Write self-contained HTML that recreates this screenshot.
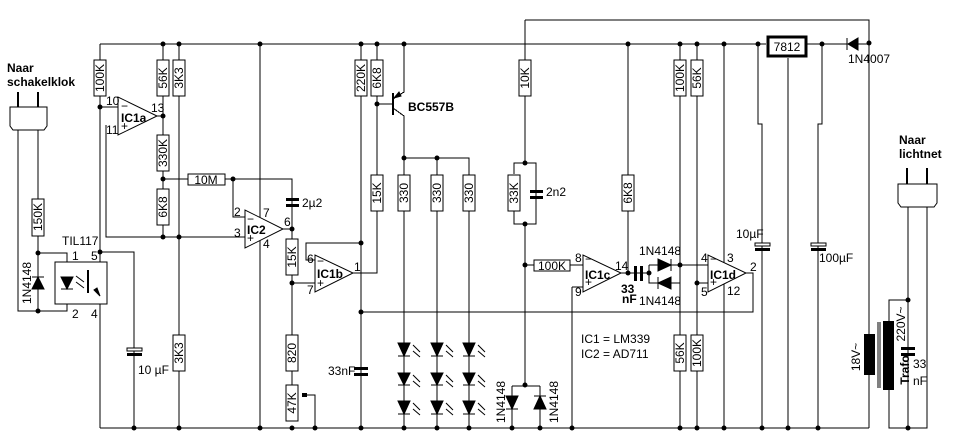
<!DOCTYPE html>
<html><head><meta charset="utf-8"><style>
html,body{margin:0;padding:0;background:#fff}
svg{display:block}
text{font-family:"Liberation Sans",sans-serif;font-size:12px;fill:#000}
.b{font-weight:bold}
.r{fill:#fff;stroke:#000;stroke-width:1}
.t{font-size:11px}
</style></head><body>
<svg width="956" height="448" viewBox="0 0 956 448" xmlns="http://www.w3.org/2000/svg">
<g stroke="#000" stroke-width="1" fill="none" shape-rendering="crispEdges">
<path d="M100 44H766M807 44H869M525 20H869V428"/>
<path d="M100 428H869"/>
<path d="M18 130V311H67V304M38 130V311M38 253H67V262"/>
<path d="M100 44V268L88 276M88 287L100 295V428M100 252H134V428"/>
<path d="M100 107H118M106 125V237H245M157 116H163M163 44V237M179 44V428"/>
<path d="M163 179H292V229M233 179V217H245M260 44V428M283 229H292V335M292 283H315M292 335V421M306 395H315V428"/>
<path d="M315 260H306V243H361M361 44V428M353 273H377V104M377 44V104H393M404 44V92L393 99M393 108L404 116V158H469V428M437 158V428M404 158V428"/>
<path d="M361 312H753V273H746"/>
<path d="M525 20V163M514 174V163H536V224H514V211M525 224V385M525 265H583M512 386H540M512 386V428M540 386V428M572 287H583M572 287V428"/>
<path d="M628 44V273H621M621 273H649M649 265V283H680M649 265H680M680 44V428M697 44V428M680 265H708M697 283H708M724 44V428"/>
<path d="M758 44V124H762V428M788 58V428M822 44V124H818V428"/>
<path d="M908 207V428M927 207V428H889V300H908"/>
<path d="M878 322V388M880 322V388"/>
</g>
<g class="r" shape-rendering="crispEdges">
<rect x="94" y="60" width="12" height="36"/>
<rect x="157" y="60" width="12" height="36"/>
<rect x="173" y="60" width="12" height="36"/>
<rect x="157" y="135" width="12" height="36"/>
<rect x="157" y="189" width="12" height="36"/>
<rect x="188" y="174" width="37" height="11"/>
<rect x="32" y="199" width="12" height="37"/>
<rect x="173" y="335" width="12" height="36"/>
<rect x="286" y="239" width="12" height="36"/>
<rect x="286" y="335" width="12" height="36"/>
<rect x="286" y="385" width="12" height="36"/>
<rect x="355" y="60" width="12" height="36"/>
<rect x="371" y="60" width="12" height="36"/>
<rect x="371" y="175" width="12" height="36"/>
<rect x="398" y="175" width="12" height="36"/>
<rect x="431" y="175" width="12" height="36"/>
<rect x="463" y="175" width="12" height="36"/>
<rect x="519" y="60" width="12" height="36"/>
<rect x="508" y="175" width="12" height="36"/>
<rect x="622" y="175" width="12" height="36"/>
<rect x="534" y="260" width="36" height="11"/>
<rect x="674" y="60" width="12" height="36"/>
<rect x="691" y="60" width="12" height="36"/>
<rect x="674" y="335" width="12" height="36"/>
<rect x="691" y="335" width="12" height="36"/>
<rect x="55" y="262" width="52" height="42"/>
<rect x="768" y="37" width="38" height="19" stroke-width="3"/>
</g>
<g fill="#fff" stroke="#000">
<polygon points="118,97 118,135 157,116"/>
<polygon points="245,210 245,248 283,229"/>
<polygon points="315,255 315,292 353,273"/>
<polygon points="583,255 583,292 621,273"/>
<polygon points="708,255 708,292 746,273"/>
</g>
<g fill="#000">
<rect x="286" y="198" width="13" height="3"/><rect x="286" y="204" width="13" height="3"/>
<rect x="127" y="348" width="15" height="3" fill="#fff" stroke="#000"/><rect x="127" y="353" width="15" height="3"/>
<rect x="354" y="367" width="14" height="3"/><rect x="354" y="373" width="14" height="3"/>
<rect x="530" y="190" width="13" height="3"/><rect x="530" y="196" width="13" height="3"/>
<rect x="634" y="266" width="3" height="15"/><rect x="640" y="266" width="3" height="15"/>
<rect x="755" y="243" width="15" height="3" fill="#fff" stroke="#000"/><rect x="755" y="248" width="15" height="3"/>
<rect x="811" y="243" width="15" height="3" fill="#fff" stroke="#000"/><rect x="811" y="248" width="15" height="3"/>
<rect x="901" y="347" width="14" height="3"/><rect x="901" y="353" width="14" height="3"/>
<rect x="864" y="334" width="11" height="41"/>
<rect x="883" y="321" width="11" height="69"/>
<rect x="302" y="393" width="5" height="4"/>
</g>
<g fill="#000" stroke="#000">
<polygon points="32,289 44,289 38,277"/><path d="M32 277H44"/>
<polygon points="61,277 73,277 67,289"/><path d="M61 289H73"/>
<path d="M88 270V293" stroke-width="2"/>
<polygon points="100,296 94,290 97,288"/>
<polygon points="398,343 410,343 404,356"/><path d="M398 356H410"/>
<polygon points="431,343 443,343 437,356"/><path d="M431 356H443"/>
<polygon points="463,343 475,343 469,356"/><path d="M463 356H475"/>
<polygon points="398,373 410,373 404,385"/><path d="M398 385H410"/>
<polygon points="431,373 443,373 437,385"/><path d="M431 385H443"/>
<polygon points="463,373 475,373 469,385"/><path d="M463 385H475"/>
<polygon points="398,401 410,401 404,414"/><path d="M398 414H410"/>
<polygon points="431,401 443,401 437,414"/><path d="M431 414H443"/>
<polygon points="463,401 475,401 469,414"/><path d="M463 414H475"/>
<polygon points="506,396 518,396 512,409"/><path d="M506 409H518"/>
<polygon points="534,409 546,409 540,396"/><path d="M534 396H546"/>
<polygon points="658,259 658,271 671,265"/><path d="M671 259V271"/>
<polygon points="671,277 671,289 658,283"/><path d="M658 277V289"/>
<polygon points="858,38 858,50 848,44"/><path d="M847 38V50"/>
<polygon points="394,98 399,92 401,96"/>
</g>
<path d="M393 93V115" stroke="#000" stroke-width="2"/>
<g stroke="#000" fill="none">
<path d="M76 276L84 282M76 282L84 288"/>
<path d="M413 345L420 352M413 351L420 357M446 345L453 352M446 351L453 357M478 345L485 352M478 351L485 357"/>
<path d="M413 375L420 382M413 381L420 387M446 375L453 382M446 381L453 387M478 375L485 382M478 381L485 387"/>
<path d="M413 403L420 410M413 409L420 415M446 403L453 410M446 409L453 415M478 403L485 410M478 409L485 415"/>
</g>
<g fill="#fff" stroke="#000">
<path d="M10 107H47V126L44 130H13L10 126Z"/>
<path d="M898 184H937V203L934 207H901L898 203Z"/>
</g>
<g stroke="#000" stroke-width="2"><path d="M18 92V107M38 92V107M907 168V184M927 168V184"/></g>
<g fill="#000">
<circle cx="163" cy="44" r="2.5"/><circle cx="179" cy="44" r="2.5"/><circle cx="260" cy="44" r="2.5"/><circle cx="361" cy="44" r="2.5"/><circle cx="377" cy="44" r="2.5"/><circle cx="404" cy="44" r="2.5"/>
<circle cx="628" cy="44" r="2.5"/><circle cx="680" cy="44" r="2.5"/><circle cx="697" cy="44" r="2.5"/><circle cx="724" cy="44" r="2.5"/><circle cx="758" cy="44" r="2.5"/><circle cx="822" cy="44" r="2.5"/><circle cx="869" cy="43" r="2.5"/>
<circle cx="100" cy="107" r="2.5"/><circle cx="163" cy="116" r="2.5"/><circle cx="163" cy="179" r="2.5"/><circle cx="233" cy="179" r="2.5"/><circle cx="163" cy="237" r="2.5"/><circle cx="179" cy="237" r="2.5"/>
<circle cx="38" cy="253" r="2.5"/><circle cx="38" cy="311" r="2.5"/><circle cx="100" cy="252" r="2.5"/>
<circle cx="292" cy="229" r="2.5"/><circle cx="292" cy="283" r="2.5"/><circle cx="361" cy="243" r="2.5"/><circle cx="361" cy="312" r="2.5"/><circle cx="377" cy="104" r="2.5"/>
<circle cx="404" cy="158" r="2.5"/><circle cx="437" cy="158" r="2.5"/>
<circle cx="525" cy="163" r="2.5"/><circle cx="525" cy="224" r="2.5"/><circle cx="525" cy="265" r="2.5"/><circle cx="525" cy="385" r="2.5"/>
<circle cx="628" cy="273" r="2.5"/><circle cx="649" cy="273" r="2.5"/><circle cx="680" cy="265" r="2.5"/><circle cx="697" cy="283" r="2.5"/>
<circle cx="908" cy="300" r="2.5"/><circle cx="908" cy="428" r="2.5"/>
<circle cx="134" cy="428" r="2.5"/><circle cx="179" cy="428" r="2.5"/><circle cx="260" cy="428" r="2.5"/><circle cx="292" cy="428" r="2.5"/><circle cx="315" cy="428" r="2.5"/><circle cx="361" cy="428" r="2.5"/><circle cx="404" cy="428" r="2.5"/><circle cx="437" cy="428" r="2.5"/><circle cx="469" cy="428" r="2.5"/><circle cx="512" cy="428" r="2.5"/><circle cx="540" cy="428" r="2.5"/><circle cx="572" cy="428" r="2.5"/><circle cx="680" cy="428" r="2.5"/><circle cx="697" cy="428" r="2.5"/><circle cx="724" cy="428" r="2.5"/><circle cx="762" cy="428" r="2.5"/><circle cx="788" cy="428" r="2.5"/><circle cx="818" cy="428" r="2.5"/>
</g>
<g class="t" text-anchor="middle">
<text transform="translate(104,78) rotate(-90)">100K</text>
<text transform="translate(167,78) rotate(-90)">56K</text>
<text transform="translate(183,78) rotate(-90)">3K3</text>
<text transform="translate(167,153) rotate(-90)">330K</text>
<text transform="translate(167,207) rotate(-90)">6K8</text>
<text transform="translate(42,217) rotate(-90)">150K</text>
<text transform="translate(183,353) rotate(-90)">3K3</text>
<text transform="translate(296,257) rotate(-90)">15K</text>
<text transform="translate(296,353) rotate(-90)">820</text>
<text transform="translate(296,403) rotate(-90)">47K</text>
<text transform="translate(365,78) rotate(-90)">220K</text>
<text transform="translate(381,78) rotate(-90)">6K8</text>
<text transform="translate(381,193) rotate(-90)">15K</text>
<text transform="translate(408,193) rotate(-90)">330</text>
<text transform="translate(441,193) rotate(-90)">330</text>
<text transform="translate(473,193) rotate(-90)">330</text>
<text transform="translate(529,78) rotate(-90)">10K</text>
<text transform="translate(518,193) rotate(-90)">33K</text>
<text transform="translate(632,193) rotate(-90)">6K8</text>
<text transform="translate(684,78) rotate(-90)">100K</text>
<text transform="translate(701,78) rotate(-90)">56K</text>
<text transform="translate(684,353) rotate(-90)">56K</text>
<text transform="translate(701,353) rotate(-90)">100K</text>
<text x="206" y="184">10M</text>
<text x="552" y="270">100K</text>
<text x="787" y="51" font-size="12">7812</text>
</g>
<g font-size="12" text-anchor="middle">
<text transform="translate(31,283) rotate(-90)">1N4148</text>
<text transform="translate(505,402) rotate(-90)">1N4148</text>
<text transform="translate(558,402) rotate(-90)">1N4148</text>
<text transform="translate(860,357) rotate(-90)">18V~</text>
<text transform="translate(905,324) rotate(-90)">220V~</text>
<text transform="translate(909,370) rotate(-90)" class="b" font-size="13">Trafo</text>
</g>
<text x="7" y="72" class="b">Naar</text>
<text x="7" y="86" class="b">schakelklok</text>
<text x="899" y="144" class="b">Naar</text>
<text x="899" y="158" class="b">lichtnet</text>
<text x="62" y="245">TIL117</text>
<text x="72" y="260">1</text><text x="91" y="260">5</text><text x="72" y="318">2</text><text x="91" y="318">4</text>
<text x="138" y="374">10 µF</text>
<text x="302" y="207">2µ2</text>
<text x="328" y="375">33nF</text>
<text x="408" y="111" class="b">BC557B</text>
<text x="546" y="196">2n2</text>
<text x="736" y="238">10µF</text>
<text x="819" y="262">100µF</text>
<text x="848" y="63">1N4007</text>
<text x="639" y="255">1N4148</text>
<text x="639" y="305">1N4148</text>
<text x="621" y="293" class="b">33</text>
<text x="622" y="303" class="b">nF</text>
<text x="581" y="343">IC1 = LM339</text>
<text x="581" y="358">IC2 = AD711</text>
<text x="913" y="368">33</text>
<text x="913" y="385">nF</text>
<g class="b" font-size="12">
<text x="121" y="122">IC1a</text><text x="247" y="234">IC2</text><text x="317" y="278">IC1b</text><text x="585" y="279">IC1c</text><text x="710" y="279">IC1d</text>
</g>
<g font-size="11">
<text x="121" y="110">−</text><text x="121" y="130">+</text>
<text x="247" y="223">−</text><text x="247" y="242">+</text>
<text x="317" y="265">−</text><text x="317" y="287">+</text>
<text x="585" y="263">−</text><text x="585" y="286">+</text>
<text x="710" y="263">−</text><text x="710" y="286">+</text>
<text x="106" y="105">10</text><text x="106" y="134">11</text><text x="151" y="112">13</text>
<text x="234" y="216">2</text><text x="234" y="237">3</text><text x="263" y="217">7</text><text x="263" y="248">4</text><text x="284" y="226">6</text>
<text x="307" y="263">6</text><text x="307" y="294">7</text><text x="354" y="271">1</text>
<text x="575" y="262">8</text><text x="575" y="296">9</text><text x="615" y="270">14</text>
<text x="701" y="262">4</text><text x="701" y="296">5</text><text x="727" y="262">3</text><text x="727" y="295">12</text><text x="750" y="271">2</text>
</g>
</svg>
</body></html>
